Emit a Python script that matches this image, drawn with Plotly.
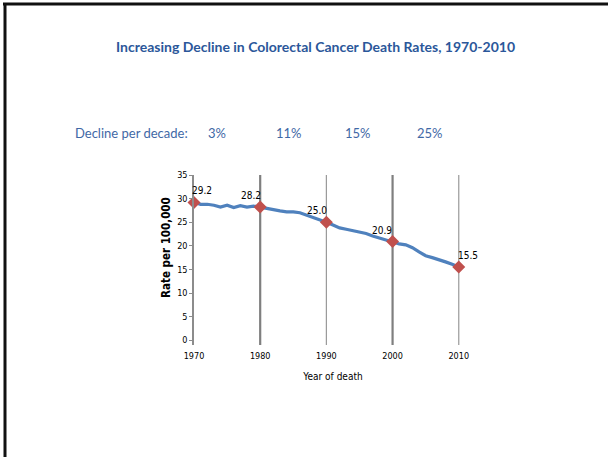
import plotly.graph_objects as go

# Annual colorectal cancer death rate (per 100,000), 1970-2010
years = list(range(1970, 2011))
rates = [29.2, 28.8, 28.8, 28.6, 28.2, 28.6, 28.1, 28.5, 28.2, 28.4,
         28.2, 27.9, 27.6, 27.4, 27.2, 27.2, 27.0, 26.5, 26.0, 25.6,
         25.0, 24.4, 23.8, 23.5, 23.2, 23.0, 22.6, 22.1, 21.7, 21.2,
         20.9, 20.4, 20.2, 19.6, 18.7, 17.9, 17.5, 17.1, 16.6, 16.1,
         15.5]

# Decade markers with labelled values
marker_years = [1970, 1980, 1990, 2000, 2010]
marker_rates = [29.2, 28.2, 25.0, 20.9, 15.5]
marker_labels = ["29.2", "28.2", "25.0", "20.9", "15.5"]
label_xshift = [8, -9, -9, -11, 9]

# Decade divider lines (heavier strokes alternate)
divider_years = [1980, 1990, 2000, 2010]
divider_widths = [2.2, 1.2, 2.2, 1.2]
divider_colors = ["#7f7f7f", "#999999", "#7f7f7f", "#999999"]

# Decline per decade shown above the chart
decline_title = "Decline per decade:"
decline_values = ["3%", "11%", "15%", "25%"]

x_ticks = [1970, 1980, 1990, 2000, 2010]
y_ticks = [0, 5, 10, 15, 20, 25, 30, 35]

W, H = 608, 457
L, R, T, B = 194, 472, 175, 345   # plot-area pixel box


def px(x):
    return (x - L) / (R - L)


def py(y):
    return (B - y) / (B - T)


SMALL = "DejaVu Sans Condensed, DejaVu Sans, sans-serif"
BODY = "Lato, Open Sans, sans-serif"

fig = go.Figure()

fig.add_trace(go.Scatter(
    x=years, y=rates, mode="lines",
    line=dict(color="#4F81BD", width=3.2),
    hoverinfo="skip", showlegend=False,
))

fig.add_trace(go.Scatter(
    x=marker_years, y=marker_rates, mode="markers",
    marker=dict(symbol="diamond", size=10, color="#C0504D"),
    cliponaxis=False, showlegend=False, hoverinfo="skip",
))

fig.update_xaxes(
    range=[1970, 2012], tickvals=x_ticks,
    showgrid=False, zeroline=False, showline=False, ticks="", ticklabelstandoff=4,
    tickfont=dict(family=SMALL, size=9, color="#000000"),
    title=dict(text="Year of death", font=dict(family=SMALL, size=10, color="#000000"),
               standoff=12),
)
fig.update_yaxes(
    range=[-1, 35], tickvals=y_ticks,
    showgrid=False, zeroline=False,
    showline=True, linecolor="#8c8c8c", linewidth=1.5,
    ticks="outside", ticklen=3, tickcolor="#8c8c8c",
    tickfont=dict(family=SMALL, size=9, color="#000000"),
)

annotations = [
    dict(text="<b>Increasing Decline in Colorectal Cancer Death Rates, 1970-2010</b>",
         x=px(315), y=py(46), xref="paper", yref="paper", showarrow=False,
         xanchor="center", yanchor="middle",
         font=dict(family=BODY, size=14, color="#2B579A")),
    dict(text=decline_title, x=px(73), y=py(133), xref="paper", yref="paper",
         showarrow=False, xanchor="left", yanchor="middle",
         font=dict(family=BODY, size=13, color="#3F68A6")),
    dict(text="<b>Rate per 100,000</b>", x=px(166), y=py(248),
         xref="paper", yref="paper", showarrow=False, textangle=-90,
         xanchor="center", yanchor="middle",
         font=dict(family=SMALL, size=11.5, color="#000000")),
]
for xc, label in zip([217, 289, 358, 430], decline_values):
    annotations.append(dict(
        text=label, x=px(xc), y=py(133), xref="paper", yref="paper",
        showarrow=False, xanchor="center", yanchor="middle",
        font=dict(family=BODY, size=13, color="#3F68A6")))

# Value labels beside each decade marker
for xv, yv, label, dx in zip(marker_years, marker_rates, marker_labels, label_xshift):
    annotations.append(dict(
        text=label, x=xv, y=yv, xref="x", yref="y", showarrow=False,
        xanchor="center", yanchor="bottom", xshift=dx, yshift=4,
        font=dict(family=SMALL, size=10, color="#000000")))

shapes = []
for xv, w, c in zip(divider_years, divider_widths, divider_colors):
    shapes.append(dict(type="line", xref="x", yref="y", x0=xv, x1=xv,
                       y0=-1, y1=35, layer="below", line=dict(color=c, width=w)))

# Slide frame: top and left edges
shapes += [
    dict(type="line", xref="paper", yref="paper",
         x0=px(3), x1=px(610), y0=py(4), y1=py(4),
         line=dict(color="#111111", width=3)),
    dict(type="line", xref="paper", yref="paper",
         x0=px(5), x1=px(5), y0=py(3), y1=py(460),
         line=dict(color="#111111", width=3)),
]

fig.update_layout(
    width=W, height=H,
    margin=dict(l=L, r=W - R, t=T, b=H - B),
    paper_bgcolor="white", plot_bgcolor="white",
    annotations=annotations, shapes=shapes,
)

fig.write_html("out.html")
